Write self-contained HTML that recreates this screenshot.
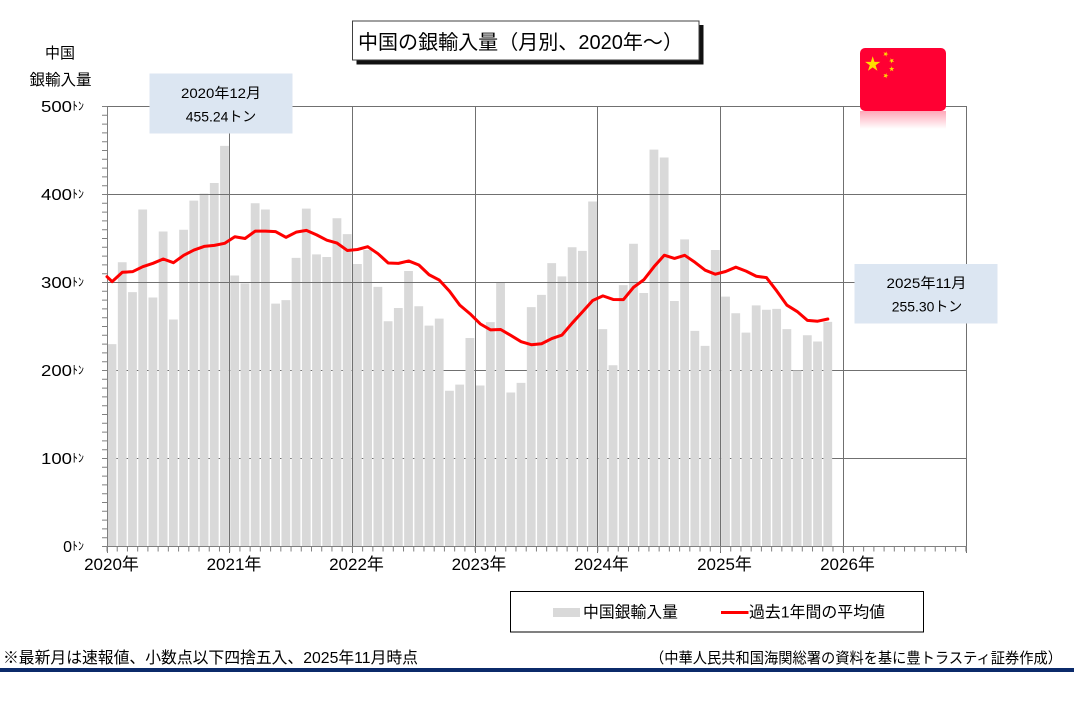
<!DOCTYPE html>
<html><head><meta charset="utf-8">
<style>
html,body{margin:0;padding:0;background:#fff;}
body{width:1074px;height:707px;overflow:hidden;}
svg{display:block;}
text{font-family:"Liberation Sans","Noto Sans CJK JP",sans-serif;fill:#000;}
</style></head>
<body>
<svg width="1074" height="707" viewBox="0 0 1074 707" xmlns="http://www.w3.org/2000/svg">
<defs>
<linearGradient id="refl" x1="0" y1="0" x2="0" y2="1">
<stop offset="0" stop-color="#ff4d70" stop-opacity="0.5"/>
<stop offset="1" stop-color="#ff4d70" stop-opacity="0"/>
</linearGradient>
<polygon id="st" points="0,-1 0.2245,-0.309 0.9511,-0.309 0.3633,0.118 0.5878,0.809 0,0.382 -0.5878,0.809 -0.3633,0.118 -0.9511,-0.309 -0.2245,-0.309"/>
</defs>
<rect x="0" y="0" width="1074" height="707" fill="#fff"/>
<path d="M107,370.5H967M107,458.5H967" stroke="#707070" fill="none"/>
<g transform="translate(107,546.5) scale(10.225,-0.88)">
<path fill="#d9d9d9" d="M0.06,0h0.86v230h-0.86z M1.06,0h0.86v323h-0.86z M2.06,0h0.86v289h-0.86z M3.06,0h0.86v383h-0.86z M4.06,0h0.86v283h-0.86z M5.06,0h0.86v358h-0.86z M6.06,0h0.86v258h-0.86z M7.06,0h0.86v360h-0.86z M8.06,0h0.86v393h-0.86z M9.06,0h0.86v401h-0.86z M10.06,0h0.86v413h-0.86z M11.06,0h0.86v455.24h-0.86z M12.06,0h0.86v308h-0.86z M13.06,0h0.86v299h-0.86z M14.06,0h0.86v390h-0.86z M15.06,0h0.86v383h-0.86z M16.06,0h0.86v276h-0.86z M17.06,0h0.86v280h-0.86z M18.06,0h0.86v328h-0.86z M19.06,0h0.86v384h-0.86z M20.06,0h0.86v332h-0.86z M21.06,0h0.86v329h-0.86z M22.06,0h0.86v373h-0.86z M23.06,0h0.86v355h-0.86z M24.06,0h0.86v321h-0.86z M25.06,0h0.86v337h-0.86z M26.06,0h0.86v295h-0.86z M27.06,0h0.86v256h-0.86z M28.06,0h0.86v271h-0.86z M29.06,0h0.86v313h-0.86z M30.06,0h0.86v273h-0.86z M31.06,0h0.86v251h-0.86z M32.06,0h0.86v259h-0.86z M33.06,0h0.86v177h-0.86z M34.06,0h0.86v184h-0.86z M35.06,0h0.86v237h-0.86z M36.06,0h0.86v183h-0.86z M37.06,0h0.86v255h-0.86z M38.06,0h0.86v300h-0.86z M39.06,0h0.86v175h-0.86z M40.06,0h0.86v186h-0.86z M41.06,0h0.86v272h-0.86z M42.06,0h0.86v286h-0.86z M43.06,0h0.86v322h-0.86z M44.06,0h0.86v307h-0.86z M45.06,0h0.86v340h-0.86z M46.06,0h0.86v336h-0.86z M47.06,0h0.86v392h-0.86z M48.06,0h0.86v247h-0.86z M49.06,0h0.86v206h-0.86z M50.06,0h0.86v297h-0.86z M51.06,0h0.86v344h-0.86z M52.06,0h0.86v288h-0.86z M53.06,0h0.86v451h-0.86z M54.06,0h0.86v442h-0.86z M55.06,0h0.86v279h-0.86z M56.06,0h0.86v349h-0.86z M57.06,0h0.86v245h-0.86z M58.06,0h0.86v228h-0.86z M59.06,0h0.86v337h-0.86z M60.06,0h0.86v284h-0.86z M61.06,0h0.86v265h-0.86z M62.06,0h0.86v243h-0.86z M63.06,0h0.86v274h-0.86z M64.06,0h0.86v269h-0.86z M65.06,0h0.86v270h-0.86z M66.06,0h0.86v247h-0.86z M67.06,0h0.86v200h-0.86z M68.06,0h0.86v240h-0.86z M69.06,0h0.86v233h-0.86z M70.06,0h0.86v255.3h-0.86z"/>
</g>
<path stroke="#707070" fill="none" d="M107,282.5H967M107,194.5H967M107,106.5H967M229.5,106.5V553M352.5,106.5V553M475.5,106.5V553M597.5,106.5V553M720.5,106.5V553M843.5,106.5V553M966.5,106.5V553"/>
<path stroke="#808080" fill="none" d="M107.5,106.5V553M102,546.5H967"/>
<line x1="106.5" y1="549" x2="967.5" y2="549" stroke="#808080" stroke-width="5" stroke-dasharray="1 9.225"/>
<line x1="104.5" y1="547" x2="104.5" y2="106" stroke="#808080" stroke-width="5" stroke-dasharray="1 7.8"/>
<g transform="translate(107,546.5) scale(10.225,-0.88)">
<polyline fill="none" stroke="#ff0000" stroke-width="3" stroke-linejoin="round" stroke-linecap="round" vector-effect="non-scaling-stroke" points="0,306.6 0.5,301 1.5,311.6 2.5,312.3 3.5,318 4.5,321.8 5.5,326.7 6.5,322.5 7.5,330.9 8.5,336.9 9.5,341 10.5,342.2 11.5,344.5 12.5,352 13.5,350 14.5,358.4 15.5,358.4 16.5,357.8 17.5,351.3 18.5,357.2 19.5,359.2 20.5,354.1 21.5,348.1 22.5,344.75 23.5,336.4 24.5,337.5 25.5,340.7 26.5,332.75 27.5,322.2 28.5,321.75 29.5,324.5 30.5,319.9 31.5,308.8 32.5,302.75 33.5,290.1 34.5,274.3 35.5,264.5 36.5,253 37.5,246.2 38.5,246.6 39.5,239.8 40.5,232.75 41.5,229.3 42.5,230.4 43.5,236.3 44.5,240.3 45.5,253.9 46.5,266.6 47.5,279.5 48.5,284.8 49.5,280.75 50.5,280.5 51.5,294.6 52.5,303.1 53.5,318 54.5,331 55.5,327.4 56.5,330.9 57.5,323 58.5,314 59.5,309.4 60.5,312.5 61.5,317.4 62.5,312.9 63.5,307.1 64.5,305.5 65.5,290.4 66.5,274.2 67.5,267 68.5,257 69.5,256 70.5,258.5"/>
</g>
<g font-size="16" text-anchor="end">
<text x="72" y="112" textLength="31" lengthAdjust="spacingAndGlyphs">500</text>
<text x="72" y="200" textLength="31" lengthAdjust="spacingAndGlyphs">400</text>
<text x="72" y="288" textLength="31" lengthAdjust="spacingAndGlyphs">300</text>
<text x="72" y="376" textLength="31" lengthAdjust="spacingAndGlyphs">200</text>
<text x="72" y="464" textLength="31" lengthAdjust="spacingAndGlyphs">100</text>
<text x="72" y="552">0</text>
</g>
<g font-size="12">
<text x="72" y="110">ﾄﾝ</text>
<text x="72" y="198">ﾄﾝ</text>
<text x="72" y="286">ﾄﾝ</text>
<text x="72" y="374">ﾄﾝ</text>
<text x="72" y="462">ﾄﾝ</text>
<text x="72" y="550">ﾄﾝ</text>
</g>
<text x="60" y="58" font-size="15" text-anchor="middle">中国</text>
<text x="60.5" y="85" font-size="15.5" text-anchor="middle">銀輸入量</text>
<g font-size="17" text-anchor="middle">
<text x="111.5" y="570">2020年</text>
<text x="234" y="570">2021年</text>
<text x="356.5" y="570">2022年</text>
<text x="479" y="570">2023年</text>
<text x="601.5" y="570">2024年</text>
<text x="724.5" y="570">2025年</text>
<text x="847.5" y="570">2026年</text>
</g>
<rect x="356.5" y="25" width="347" height="39.5" fill="#111"/>
<rect x="352.5" y="21" width="346.5" height="39" fill="#fff" stroke="#404040"/>
<text x="358" y="49" font-size="20" textLength="325" lengthAdjust="spacingAndGlyphs">中国の銀輸入量（月別、2020年～）</text>
<rect x="149.5" y="73.5" width="143" height="60" fill="#dce6f2"/>
<text x="221" y="98" font-size="14" text-anchor="middle" textLength="80" lengthAdjust="spacingAndGlyphs">2020年12月</text>
<text x="221" y="121.5" font-size="14" text-anchor="middle" textLength="70.5" lengthAdjust="spacingAndGlyphs">455.24トン</text>
<rect x="854.5" y="264" width="143" height="59.5" fill="#dce6f2"/>
<text x="926.5" y="288" font-size="14" text-anchor="middle" textLength="80" lengthAdjust="spacingAndGlyphs">2025年11月</text>
<text x="927" y="311.5" font-size="14" text-anchor="middle" textLength="70.5" lengthAdjust="spacingAndGlyphs">255.30トン</text>
<rect x="860" y="111" width="86" height="18" fill="url(#refl)"/>
<rect x="860" y="48" width="86" height="63" rx="5" ry="5" fill="#ff0033"/>
<g fill="#ffde00">
<use href="#st" transform="translate(872.7,64.3) scale(8)"/>
<use href="#st" transform="translate(885.7,54) rotate(20) scale(2.8)"/>
<use href="#st" transform="translate(891.7,60.7) rotate(45) scale(2.8)"/>
<use href="#st" transform="translate(891.7,69) scale(2.8)"/>
<use href="#st" transform="translate(885.7,75.7) rotate(20) scale(2.8)"/>
</g>
<rect x="510.5" y="591.5" width="413" height="40.5" fill="#fff" stroke="#000"/>
<rect x="553" y="608" width="27" height="9" fill="#d9d9d9"/>
<text x="583" y="617.5" font-size="16" textLength="95" lengthAdjust="spacingAndGlyphs">中国銀輸入量</text>
<line x1="721" y1="612.5" x2="748.5" y2="612.5" stroke="#ff0000" stroke-width="3"/>
<text x="749" y="617.5" font-size="16" textLength="136" lengthAdjust="spacingAndGlyphs">過去1年間の平均値</text>
<text x="3" y="663" font-size="16" textLength="415" lengthAdjust="spacingAndGlyphs">※最新月は速報値、小数点以下四捨五入、2025年11月時点</text>
<text x="1062" y="663" font-size="15" text-anchor="end" textLength="412" lengthAdjust="spacingAndGlyphs">（中華人民共和国海関総署の資料を基に豊トラスティ証券作成）</text>
<rect x="0" y="668" width="1074" height="4" fill="#0b2a6a"/>
</svg>
</body></html>
